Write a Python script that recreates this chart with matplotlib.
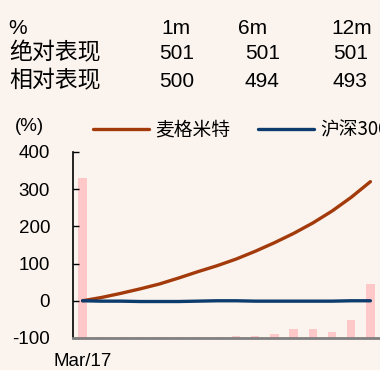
import matplotlib
matplotlib.use("Agg")
import matplotlib.pyplot as plt
import numpy as np

plt.rcParams["font.family"] = ["Liberation Sans", "Noto Sans CJK SC", "DejaVu Sans"]
plt.rcParams["axes.unicode_minus"] = False

BG = "#FBF4EE"
BROWN = "#A33A0B"
NAVY = "#0C3B6E"
PINK = "#FFC8C8"

# table above the chart
header = ["%", "1m", "6m", "12m"]
row_labels = ["绝对表现", "相对表现"]
abs_perf = ["501", "501", "501"]
rel_perf = ["500", "494", "493"]

# monthly series
x_labels = ["Mar/17"]
stock = [0, 9, 20, 32, 45, 61, 78, 94, 112, 133, 156, 181, 209, 241, 278, 320]
index300 = [0, -1, -1, -2, -2, -2, -1, 0, 0, -1, -1, -1, -1, -1, 0, 0]
volume = [86, 0.5, 0.5, 0.5, 0.5, 0.5, 0.5, 0.8, 1.2, 1.2, 2.3, 4.8, 4.8, 3.1, 9.5, 29]

t = np.arange(len(stock))

fig = plt.figure(figsize=(3.8, 3.7), dpi=100, facecolor=BG)

# header table
col_x = [0.462, 0.665, 0.925]
num_x = [0.465, 0.69, 0.922]
fig.text(0.022, 0.908, header[0], fontsize=15, ha="left", va="baseline")
for x, h in zip(col_x, header[1:]):
    fig.text(x, 0.908, h, fontsize=15, ha="center", va="baseline")
for y, lab, vals in [(0.841, row_labels[0], abs_perf), (0.765, row_labels[1], rel_perf)]:
    fig.text(0.024, y, lab, fontsize=16.5, ha="left", va="baseline",
             family=["Noto Sans CJK SC"])
    for x, v in zip(num_x, vals):
        fig.text(x, y, v, fontsize=15, ha="center", va="baseline")

ax = fig.add_axes([0.192, 0.0865, 0.808, 0.503])
ax.set_facecolor(BG)
ax2 = ax.twinx()
ax2.bar(t, volume, width=0.44, color=PINK, zorder=1)
ax2.set_ylim(0, 100)
ax2.axis("off")
ax.set_zorder(ax2.get_zorder() + 1)
ax.patch.set_visible(False)
ax2.patch.set_facecolor(BG)

ax.plot(t, stock, color=BROWN, lw=2.4, solid_capstyle="round", label="麦格米特")
ax.plot(t, index300, color=NAVY, lw=2.4, solid_capstyle="round", label="沪深300")

ax.set_xlim(-0.5, 15.5)
ax.set_ylim(-100, 400)
ax.set_yticks([-100, 0, 100, 200, 300, 400])
ax.set_xticks([0])
ax.set_xticklabels(x_labels)
ax.tick_params(axis="y", direction="in", length=4.5, width=1, labelsize=13.5, pad=16.5)
ax.tick_params(axis="x", length=0, labelsize=13.5, pad=11)
for s in ["top", "right"]:
    ax.spines[s].set_visible(False)
ax.spines["left"].set_color("black")
ax.spines["left"].set_linewidth(1.2)
ax.spines["bottom"].set_color("#808080")
ax.spines["bottom"].set_linewidth(2)

fig.text(0.04, 0.657, "(%)", fontsize=13.5, ha="left", va="center")
fig.legend(loc="center left", bbox_to_anchor=(0.225, 0.648), ncol=2, frameon=False,
           handlelength=3.0, handletextpad=0.3, columnspacing=1.5,
           borderaxespad=0, prop={"family": ["Noto Sans CJK SC"], "size": 13.5})

fig.savefig("out.png", dpi=100, facecolor=BG)
